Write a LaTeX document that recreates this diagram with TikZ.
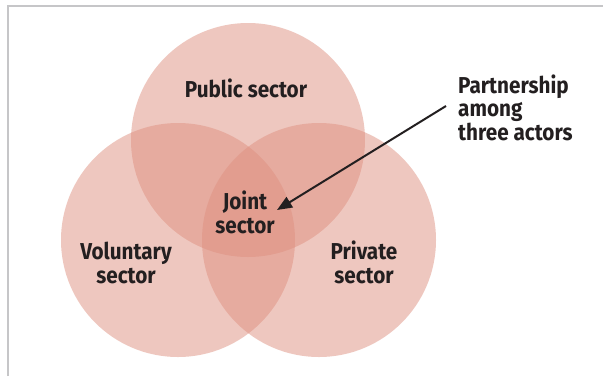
\documentclass[tikz,border=0pt]{standalone}
\usepackage{fontspec}
\usetikzlibrary{arrows.meta}
\newfontfamily\labfont{Fira Sans}[FakeStretch=0.9]
\definecolor{venn}{RGB}{223,145,129}
\definecolor{txt}{RGB}{35,31,32}
\definecolor{frame}{RGB}{198,198,200}
\begin{document}
\begin{tikzpicture}[x=1pt,y=-1pt,
  setc/.style={circle,minimum size=234pt,inner sep=0pt,fill=venn,fill opacity=0.5,draw=none},
  lab/.style={font=\labfont\bfseries\fontsize{23}{23.5}\selectfont,text=txt,align=center,inner sep=0pt},
  pointer/.style={draw=txt,line width=2pt,-{Triangle[length=15pt,width=12pt]}}]
\useasboundingbox (0,0) rectangle (603,376);
\fill[white] (0,0) rectangle (603,376);
\draw[frame,line width=2.5pt] (8,376) -- (8,6) -- (603,6);
\node[setc] (pub) at (248,140) {};
\node[setc] (vol) at (178,240) {};
\node[setc] (pri) at (319,240) {};
\node[lab,anchor=base] (publab) at (246,97) {Public sector};
\node[lab,anchor=base] (joint) at (245,233) {Joint\\sector};
\node[lab,anchor=base] (vollab) at (126,283) {Voluntary\\sector};
\node[lab,anchor=base] (prilab) at (364,283) {Private\\sector};
\node[lab,anchor=base west,align=left] (partner) at (458,140) {Partnership\\among\\three actors};
\coordinate (astart) at (446,106);
\coordinate (atip) at (277,210);
\draw[pointer] (astart) -- (atip);
\end{tikzpicture}
\end{document}
